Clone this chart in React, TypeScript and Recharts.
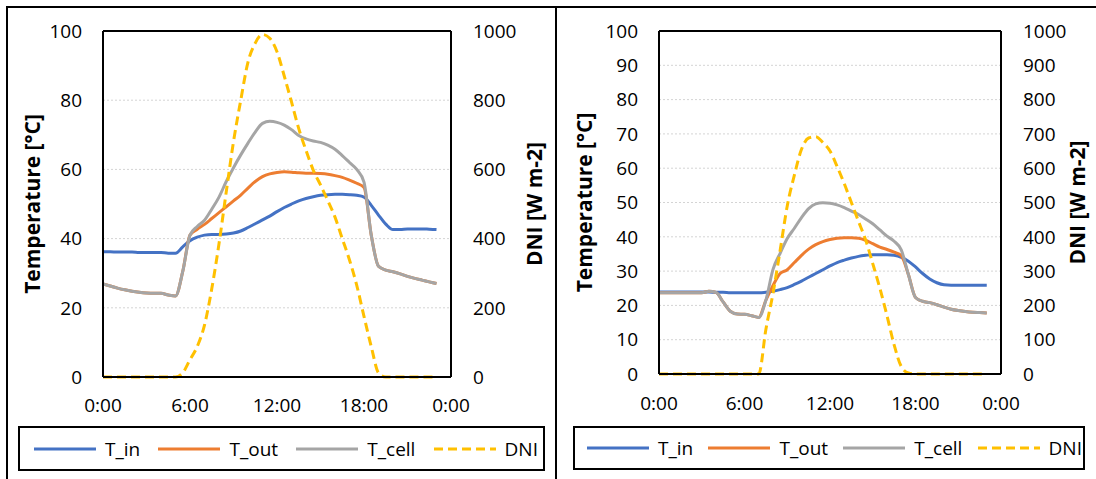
import { LineChart, Line, XAxis, YAxis, CartesianGrid, ReferenceLine } from 'recharts';

const FONT = '"Open Sans", "Liberation Sans", sans-serif';

// time of day in hours, every half hour
const HOURS = [
  0, 0.5, 1, 1.5, 2, 2.5, 3, 3.5, 4, 4.5, 5, 5.5, 6, 6.5, 7, 7.5, 8, 8.5, 9, 9.5, 10, 10.5, 11, 11.5,
  12, 12.5, 13, 13.5, 14, 14.5, 15, 15.5, 16, 16.5, 17, 17.5, 18, 18.5, 19, 19.5, 20, 20.5, 21, 21.5,
  22, 22.5, 23,
];

const X_TICKS = [0, 6, 12, 18, 24];
const X_TICK_LABELS = ['0:00', '6:00', '12:00', '18:00', '0:00'];

// left panel
const LEFT_T_IN = [
  36.2, 36.2, 36.1, 36.1, 36.1, 36.0, 36.0, 36.0, 36.0, 35.8, 35.8, 37.6, 39.4, 40.4, 41.0, 41.2,
  41.2, 41.3, 41.6, 42.2, 43.2, 44.3, 45.4, 46.5, 47.8, 49.0, 50.0, 50.9, 51.6, 52.1, 52.5, 52.7,
  52.8, 52.8, 52.7, 52.5, 52.0, 49.6, 46.8, 44.2, 42.6, 42.6, 42.8, 42.8, 42.8, 42.7, 42.6,
];
const LEFT_T_OUT = [
  26.9, 26.3, 25.7, 25.2, 24.8, 24.5, 24.3, 24.2, 24.2, 23.7, 23.4, 30.5, 41.0, 42.7, 44.1, 45.8,
  47.5, 49.2, 50.9, 52.6, 54.6, 56.5, 57.9, 58.7, 59.1, 59.3, 59.2, 59.0, 58.9, 58.9, 58.8, 58.6,
  58.2, 57.7, 56.9, 56.0, 54.8, 41.0, 32.0, 30.9, 30.4, 29.8, 29.1, 28.5, 28.0, 27.5, 27.0,
];
const LEFT_T_CELL = [
  26.9, 26.3, 25.7, 25.2, 24.8, 24.5, 24.3, 24.2, 24.2, 23.7, 23.4, 30.5, 41.0, 43.5, 45.3, 48.5,
  52.0, 56.5, 60.5, 64.2, 67.6, 70.8, 73.3, 73.9, 73.6, 72.8, 71.5, 69.8, 68.8, 68.2, 67.8, 67.0,
  65.8, 64.0, 62.0, 60.0, 56.3, 41.0, 32.0, 30.9, 30.4, 29.8, 29.1, 28.5, 28.0, 27.5, 27.0,
];
const LEFT_DNI = [
  0, 0, 0, 0, 0, 0, 0, 0, 0, 0, 0, 12, 50, 88, 150, 255, 385, 535, 680, 800, 910, 965, 990, 979,
  940, 870, 795, 718, 655, 598, 555, 510, 462, 400, 338, 265, 175, 88, 12, 0, 0, 0, 0, 0, 0, 0, 0,
];

// right panel
const RIGHT_T_IN = [
  23.9, 23.9, 23.9, 23.9, 23.9, 23.9, 23.9, 23.9, 23.8, 23.8, 23.7, 23.7, 23.7, 23.7, 23.7, 23.8,
  24.1, 24.6, 25.2, 26.1, 27.1, 28.2, 29.3, 30.4, 31.5, 32.5, 33.2, 33.8, 34.3, 34.6, 34.8, 34.8,
  34.8, 34.6, 34.0, 32.9, 31.2, 29.3, 27.7, 26.6, 26.0, 25.9, 25.9, 25.9, 25.9, 25.9, 25.9,
];
const RIGHT_T_OUT = [
  23.7, 23.7, 23.7, 23.7, 23.7, 23.7, 23.7, 24.1, 23.8, 21.0, 18.3, 17.5, 17.4, 17.0, 16.5, 21.5,
  25.8, 29.3, 30.4, 32.5, 34.6, 36.4, 37.7, 38.6, 39.2, 39.6, 39.7, 39.7, 39.6, 39.0, 38.0, 37.0,
  36.3, 35.5, 34.5, 29.0, 22.3, 21.2, 20.8, 20.2, 19.5, 18.9, 18.5, 18.2, 18.0, 17.9, 17.8,
];
const RIGHT_T_CELL = [
  23.7, 23.7, 23.7, 23.7, 23.7, 23.7, 23.7, 24.1, 23.8, 21.0, 18.3, 17.5, 17.4, 17.0, 16.5, 21.5,
  30.5, 35.2, 39.5, 42.5, 45.6, 48.2, 49.6, 49.9, 49.8, 49.3, 48.5, 47.5, 46.5, 45.2, 43.8, 42.0,
  40.2, 38.7, 36.2, 29.0, 22.3, 21.2, 20.8, 20.2, 19.5, 18.9, 18.5, 18.2, 18.0, 17.9, 17.8,
];
const RIGHT_DNI = [
  0, 0, 0, 0, 0, 0, 0, 0, 0, 0, 0, 0, 0, 0, 0, 130, 235, 360, 490, 580, 655, 688, 692, 675, 650,
  605, 555, 500, 445, 391, 322, 250, 170, 85, 22, 3, 0, 0, 0, 0, 0, 0, 0, 0, 0, 0, 0,
];

const LEFT_TEMP_TICKS = [0, 20, 40, 60, 80, 100];
const LEFT_DNI_TICKS = [0, 200, 400, 600, 800, 1000];
const RIGHT_TEMP_TICKS = [0, 10, 20, 30, 40, 50, 60, 70, 80, 90, 100];
const RIGHT_DNI_TICKS = [0, 100, 200, 300, 400, 500, 600, 700, 800, 900, 1000];

const SERIES = [
  { key: 'tIn', name: 'T_in', color: '#4472C4' },
  { key: 'tOut', name: 'T_out', color: '#ED7D31' },
  { key: 'tCell', name: 'T_cell', color: '#A5A5A5' },
  { key: 'dni', name: 'DNI', color: '#FFC000', dashed: true },
];

const buildRows = (tIn: number[], tOut: number[], tCell: number[], dni: number[]) =>
  HOURS.map((h, i) => ({ h, tIn: tIn[i], tOut: tOut[i], tCell: tCell[i], dni: dni[i] }));

const leftRows = buildRows(LEFT_T_IN, LEFT_T_OUT, LEFT_T_CELL, LEFT_DNI);
const rightRows = buildRows(RIGHT_T_IN, RIGHT_T_OUT, RIGHT_T_CELL, RIGHT_DNI);

const tickStyle = { fill: '#000', fontSize: 19, fontFamily: FONT };
const axisLine = { stroke: '#000', strokeWidth: 2 };

const verticalTitle = (text: string, cx: number) => (props: any) => {
  const vb = props.viewBox || {};
  const cy = vb.height ? vb.y + vb.height / 2 : 204;
  return (
    <text
      x={cx}
      y={cy}
      transform={`rotate(-90 ${cx} ${cy})`}
      textAnchor="middle"
      dominantBaseline="central"
      fontFamily={FONT}
      fontWeight={700}
      fontSize={21}
      fill="#000"
    >
      {text}
    </text>
  );
};

interface DayChartProps {
  rows: { h: number; [key: string]: number }[];
  tempTicks: number[];
  dniTicks: number[];
  left: number;
  width: number;
  bottom: number;
  rightWidth: number;
  tempTitleX: number;
  dniTitleX: number;
  xTickMargin: number;
}

function DayChart({
  rows,
  tempTicks,
  dniTicks,
  left,
  width,
  bottom,
  rightWidth,
  tempTitleX,
  dniTitleX,
  xTickMargin,
}: DayChartProps) {
  return (
    <div style={{ position: 'absolute', left, top: 0 }}>
      <LineChart width={width} height={420} data={rows} margin={{ top: 31, right: 0, bottom, left: 0 }}>
        <CartesianGrid vertical={false} stroke="#d4d4d4" strokeDasharray="2 2" />
        <XAxis
          dataKey="h"
          type="number"
          domain={[0, 24]}
          ticks={X_TICKS}
          interval={0}
          tickFormatter={(v: number) => X_TICK_LABELS[X_TICKS.indexOf(v)]}
          axisLine={axisLine}
          tickLine={false}
          tickSize={0}
          tickMargin={xTickMargin}
          tick={tickStyle}
          height={30}
        />
        <YAxis
          domain={[0, 100]}
          ticks={tempTicks}
          interval={0}
          width={103}
          axisLine={axisLine}
          tickLine={false}
          tickSize={0}
          tickMargin={21}
          tick={tickStyle}
          label={{ content: verticalTitle('Temperature [°C]', tempTitleX) }}
        />
        <YAxis
          yAxisId="dni"
          orientation="right"
          domain={[0, 1000]}
          ticks={dniTicks}
          interval={0}
          width={rightWidth}
          axisLine={axisLine}
          tickLine={false}
          tickSize={0}
          tickMargin={22}
          tick={tickStyle}
          label={{ content: verticalTitle('DNI [W m-2]', dniTitleX) }}
        />
        <ReferenceLine y={100} stroke="#000" strokeWidth={2} />
        {SERIES.map((s) => (
          <Line
            key={s.key}
            dataKey={s.key}
            yAxisId={s.dashed ? 'dni' : 0}
            type="monotone"
            stroke={s.color}
            strokeWidth={3}
            strokeDasharray={s.dashed ? '9 5' : undefined}
            dot={false}
            activeDot={false}
            isAnimationActive={false}
          />
        ))}
      </LineChart>
    </div>
  );
}

function LegendBox({ left, width, height, padding }: { left: number; width: number; height: number; padding: string }) {
  return (
    <div
      style={{
        position: 'absolute',
        left,
        top: 426,
        width,
        height,
        boxSizing: 'border-box',
        border: '2px solid #000',
        display: 'flex',
        alignItems: 'center',
        justifyContent: 'space-between',
        padding,
        fontFamily: FONT,
        fontSize: 19,
        color: '#000',
      }}
    >
      {SERIES.map((s) => (
        <div key={s.key} style={{ display: 'flex', alignItems: 'center' }}>
          <svg width={66} height={6}>
            <line
              x1={2}
              y1={3}
              x2={64}
              y2={3}
              stroke={s.color}
              strokeWidth={3}
              strokeDasharray={s.dashed ? '9 5' : undefined}
            />
          </svg>
          <span style={{ marginLeft: 7 }}>{s.name}</span>
        </div>
      ))}
    </div>
  );
}

export default function App() {
  return (
    <div
      style={{
        position: 'absolute',
        left: 0,
        top: 0,
        width: 1096,
        height: 479,
        background: '#fff',
        overflow: 'hidden',
        fontFamily: FONT,
      }}
    >
      <DayChart
        rows={leftRows}
        tempTicks={LEFT_TEMP_TICKS}
        dniTicks={LEFT_DNI_TICKS}
        left={0}
        width={556}
        bottom={13}
        rightWidth={105}
        tempTitleX={32}
        dniTitleX={534}
        xTickMargin={22}
      />
      <DayChart
        rows={rightRows}
        tempTicks={RIGHT_TEMP_TICKS}
        dniTicks={RIGHT_DNI_TICKS}
        left={556}
        width={540}
        bottom={16}
        rightWidth={95}
        tempTitleX={28}
        dniTitleX={521}
        xTickMargin={23}
      />
      <LegendBox left={18} width={527} height={45} padding="0 5px 0 12px" />
      <LegendBox left={573} width={512} height={44} padding="0 1px 0 10px" />
      <div style={{ position: 'absolute', left: 6, top: 6, width: 1090, height: 2, background: '#000' }} />
      <div style={{ position: 'absolute', left: 6, top: 6, width: 2, height: 473, background: '#000' }} />
      <div style={{ position: 'absolute', left: 555, top: 6, width: 2, height: 473, background: '#000' }} />
    </div>
  );
}
